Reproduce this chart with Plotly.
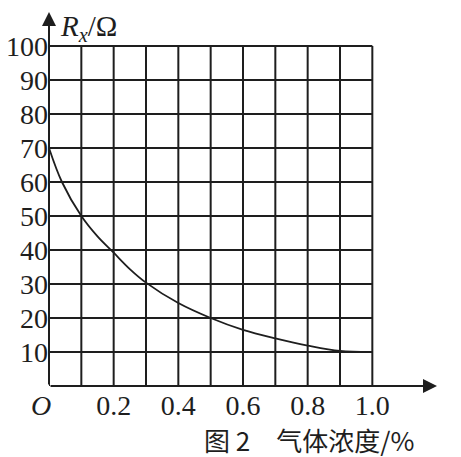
import plotly.graph_objects as go

# Data
concentration = [0.0, 0.04, 0.1, 0.15, 0.2, 0.25, 0.3, 0.4, 0.5, 0.6, 0.7, 0.8, 0.9, 1.0]
resistance = [70, 60, 50, 44, 39.2, 34.4, 30.4, 24.4, 20, 16.5, 14, 11.9, 10.3, 10]

x_grid = [0.1 * i for i in range(0, 11)]
y_grid = [10 * i for i in range(1, 11)]
y_tick_vals = [10, 20, 30, 40, 50, 60, 70, 80, 90, 100]
x_tick_vals = [0.2, 0.4, 0.6, 0.8, 1.0]
x_tick_text = ["0.2", "0.4", "0.6", "0.8", "1.0"]

serif = "Liberation Serif, Times New Roman, serif"
cjk = "Noto Sans CJK SC"
ink = "#1e1e1e"

fig = go.Figure()

shapes = []
for xv in x_grid:
    shapes.append(dict(type="line", xref="x", yref="y", x0=xv, x1=xv, y0=0, y1=100,
                       line=dict(color=ink, width=2)))
for yv in y_grid:
    shapes.append(dict(type="line", xref="x", yref="y", x0=0, x1=1.0, y0=yv, y1=yv,
                       line=dict(color=ink, width=2)))

fig.add_trace(go.Scatter(x=concentration, y=resistance, mode="lines",
                         line=dict(color=ink, width=1.8, shape="spline", smoothing=1.0),
                         hoverinfo="skip", showlegend=False))

annotations = [
    # x axis arrow
    dict(x=1.2, y=0, ax=0, ay=0, xref="x", yref="y", axref="x", ayref="y",
         showarrow=True, arrowhead=2, arrowsize=1.4, arrowwidth=2, arrowcolor=ink, text=""),
    # y axis arrow
    dict(x=0, y=110, ax=0, ay=0, xref="x", yref="y", axref="x", ayref="y",
         showarrow=True, arrowhead=2, arrowsize=1.4, arrowwidth=2, arrowcolor=ink, text=""),
    dict(x=0, y=0, xref="x", yref="y", text="<i>O</i>", showarrow=False,
         xanchor="center", yanchor="top", xshift=-8, yshift=-2,
         font=dict(family=serif, size=28, color=ink)),
    dict(x=0, y=110, xref="x", yref="y", text="<i>R</i><sub><i>x</i></sub>/Ω", showarrow=False,
         xanchor="left", yanchor="top", xshift=9, yshift=4,
         font=dict(family=serif, size=29, color=ink)),
    dict(x=0.395, y=-0.134, xref="paper", yref="paper", text="图 2　气体浓度/%", showarrow=False,
         xanchor="left", yanchor="middle", yshift=-3,
         font=dict(family=cjk, size=26, color=ink)),
]

fig.update_layout(
    width=461, height=457,
    margin=dict(l=49, r=24, t=12, b=71),
    paper_bgcolor="white", plot_bgcolor="white",
    shapes=shapes, annotations=annotations,
    xaxis=dict(range=[0, 1.2], showgrid=False, zeroline=False, showline=False,
               automargin=False, fixedrange=True,
               tickmode="array", tickvals=x_tick_vals, ticktext=x_tick_text,
               ticks="", tickfont=dict(family=serif, size=28, color=ink)),
    yaxis=dict(range=[0, 110], showgrid=False, zeroline=False, showline=False,
               automargin=False, fixedrange=True,
               tickmode="array", tickvals=y_tick_vals,
               ticks="", tickfont=dict(family=serif, size=28, color=ink)),
)

# remove the page's default body margin so the figure fills the window exactly
fig.write_html("out.html",
               config={"displayModeBar": False, "staticPlot": True},
               post_script="document.body.style.margin='0';document.body.style.overflow='hidden';")
